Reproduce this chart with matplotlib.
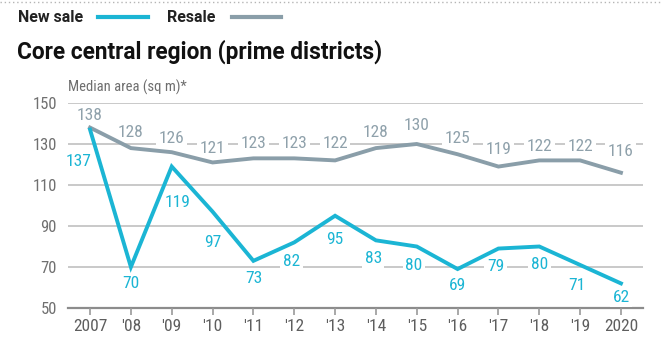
import matplotlib
matplotlib.use("Agg")
import matplotlib.pyplot as plt
from matplotlib.lines import Line2D

plt.rcParams['font.family'] = ['Roboto Condensed', 'DejaVu Sans']

years = [2007, 2008, 2009, 2010, 2011, 2012, 2013, 2014, 2015, 2016, 2017, 2018, 2019, 2020]
year_labels = ['2007', "'08", "'09", "'10", "'11", "'12", "'13", "'14", "'15", "'16", "'17", "'18", "'19", '2020']
new_sale = [137, 70, 119, 97, 73, 82, 95, 83, 80, 69, 79, 80, 71, 62]
resale = [138, 128, 126, 121, 123, 123, 122, 128, 130, 125, 119, 122, 122, 116]

# label offsets in points (dx, dy) relative to each point
new_off = [(-8, -23), (0, -12), (4, -26), (0, -22), (0, -13), (-2, -14), (0, -17),
           (-2, -13), (-2, -14), (0, -12), (-2, -13), (0, -13), (-2, -15), (0, -10)]
re_off = [(0, 9), (0, 11), (0, 10), (0, 10), (0, 11), (0, 11), (0, 12),
          (0, 11), (0, 13), (0, 11), (0, 12), (0, 10), (0, 10), (0, 15)]

cyan = '#1bb5d4'
grey = '#8a9ea9'
grey_txt = '#8fa1ab'

fig = plt.figure(figsize=(6.63, 3.47), dpi=100)
ax = fig.add_axes([68 / 663, 39 / 347, 575 / 663, 205 / 347])

ax.set_xlim(2006.46, 2020.54)
ax.set_ylim(50, 150)
for v in [70, 90, 110, 130, 150]:
    ax.axhline(v, color='#c9c9c9', lw=1.4, zorder=1)
ax.axhline(50, color='#8c8c8c', lw=1.6, zorder=1, clip_on=False)

ax.plot(years, resale, color=grey, lw=2.8, zorder=3, solid_joinstyle='miter', clip_on=False)
ax.plot(years, new_sale, color=cyan, lw=2.8, zorder=3, solid_joinstyle='miter', clip_on=False)

box = dict(boxstyle='square,pad=0.15', fc='white', ec='none')
for x, v, (dx, dy) in zip(years, resale, re_off):
    ax.annotate(str(v), (x, v), xytext=(dx, dy), textcoords='offset points',
                ha='center', va='center', fontsize=12.5, color=grey_txt, bbox=box, zorder=2)
for x, v, (dx, dy) in zip(years, new_sale, new_off):
    ax.annotate(str(v), (x, v), xytext=(dx, dy), textcoords='offset points',
                ha='center', va='center', fontsize=12.5, color=cyan, bbox=box, zorder=2)

for s in ax.spines.values():
    s.set_visible(False)
ax.set_yticks([50, 70, 90, 110, 130, 150])
ax.set_xticks(years)
ax.set_xticklabels(year_labels)
ax.tick_params(axis='y', length=0, pad=8, labelsize=12, labelcolor='#707070')
ax.tick_params(axis='x', length=5, width=1.2, color='#9a9a9a', pad=3, labelsize=12.5, labelcolor='#5e5e5e')

# header
fig.add_artist(Line2D([0, 1], [345 / 347, 345 / 347], color='#b5b5b5', lw=1, ls=(0, (1, 2))))
fig.text(18 / 663, 330 / 347, 'New sale', fontsize=11.5, fontweight='bold', color='#222222',
         va='center', family='Roboto')
fig.add_artist(Line2D([98 / 663, 148 / 663], [330 / 347] * 2, color=cyan, lw=3))
fig.text(167 / 663, 330 / 347, 'Resale', fontsize=11.5, fontweight='bold', color='#222222',
         va='center', family='Roboto')
fig.add_artist(Line2D([232 / 663, 281 / 663], [330 / 347] * 2, color=grey, lw=3))
fig.text(17 / 663, 295 / 347, 'Core central region (prime districts)', fontsize=16.3,
         fontweight='bold', color='#111111', va='center', family='Roboto')
fig.text(68 / 663, 260 / 347, 'Median area (sq m)*', fontsize=10.5, color='#6e6e6e', va='center')

fig.savefig('out.png', dpi=100)
